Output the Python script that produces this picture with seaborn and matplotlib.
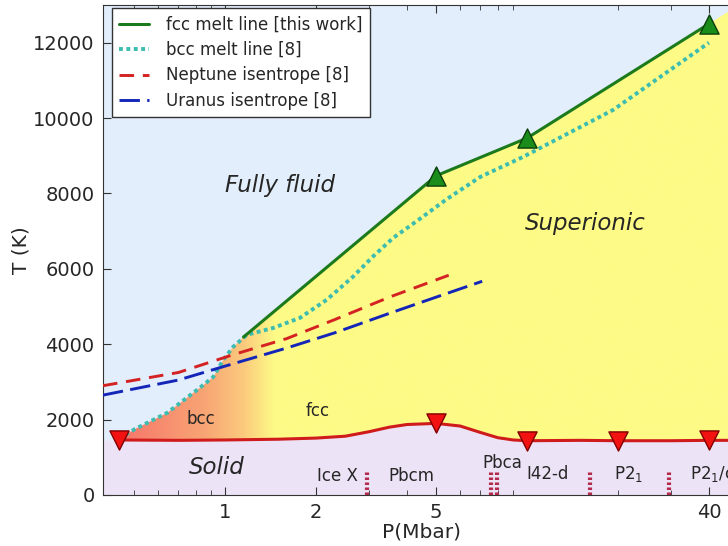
import numpy as np
import pandas as pd
import matplotlib
matplotlib.use("Agg")
import matplotlib.pyplot as plt
from matplotlib.image import AxesImage
from matplotlib.patches import Polygon
from matplotlib.colors import to_rgb
import seaborn as sns

# --- data (P in Mbar, T in K) ---
fcc_P = [1.15, 5.0, 10.0, 40.0]
fcc_T = [4190, 8470, 9470, 12500]
fcc_mark_P = [5.0, 10.0, 40.0]
fcc_mark_T = [8470, 9470, 12500]

bcc_P = [0.446, 0.503, 0.643, 0.808, 0.913, 0.985, 1.063, 1.18, 1.44, 1.77,
         2.17, 2.65, 3.09, 3.6, 4.42, 5.42, 7.0, 9.7, 19.3, 40.0]
bcc_T = [1500, 1750, 2180, 2790, 3130, 3580, 3930, 4250, 4430, 4700,
         5180, 5790, 6330, 6820, 7330, 7850, 8440, 8970, 10220, 12000]

neptune_P = [0.394, 0.7, 1.06, 1.6, 2.3, 3.5, 5.5]
neptune_T = [2900, 3250, 3720, 4150, 4650, 5250, 5830]

uranus_P = [0.394, 0.7, 1.0, 1.6, 2.3, 3.5, 5.0, 7.1]
uranus_T = [2650, 3050, 3420, 3900, 4300, 4820, 5250, 5670]

solid_P = [0.446, 0.7, 1.0, 1.5, 2.0, 2.5, 3.0, 3.5, 4.0, 5.0, 6.0, 7.0,
           8.0, 9.0, 10.0, 15.0, 20.0, 30.0, 40.0, 51.0]
solid_T = [1460, 1450, 1460, 1480, 1510, 1560, 1680, 1800, 1870, 1900, 1830, 1660,
           1520, 1460, 1440, 1450, 1440, 1440, 1450, 1450]
solid_mark_P = [0.446, 5.0, 10.0, 20.0, 40.0]
solid_mark_T = [1460, 1900, 1440, 1440, 1450]

# phase boundaries inside the solid
boundary_P = [2.95, 7.6, 7.95, 16.2, 29.5]
boundary_top = 650

phase_names = ["Ice X", "Pbcm", "Pbca", "I42-d", "P2$_1$"]
phase_P = [2.35, 4.13, 8.25, 11.67, 21.6]
phase_T = [500, 500, 850, 560, 560]

# bcc -> fcc colour ramp across pressure
ramp_P = [0.45, 0.85, 1.15, 1.45]
ramp_colors = ["#f6766b", "#f8a474", "#fbca7d", "#fdfa86"]

xlim = (0.394, 50.7)
ylim = (0, 13000)

fluid_color = "#e2eefb"
solid_color = "#ede3f6"

sns.set_style("ticks")
plt.rcParams["font.family"] = ["DejaVu Sans"]
plt.rcParams["xtick.direction"] = "in"
plt.rcParams["ytick.direction"] = "in"

fig = plt.figure(figsize=(7.28, 5.46), dpi=100)
ax = fig.add_axes([103 / 728, 51 / 546, (740 - 103) / 728, 490 / 546])
ax.set_xscale("log")
ax.set_xlim(*xlim)
ax.set_ylim(*ylim)
ax.set_facecolor(fluid_color)

# solid region
sx = [xlim[0]] + solid_P
sy = [solid_T[0]] + solid_T
ax.fill_between(sx, 0, sy, color=solid_color, lw=0, zorder=0.5)

# superionic region (gradient from bcc to fcc), clipped to the region above the solid line
upper_P = [p for p in bcc_P if p < fcc_P[0]] + fcc_P
upper_T = [t for p, t in zip(bcc_P, bcc_T) if p < fcc_P[0]] + fcc_T
slope = (fcc_T[-1] - fcc_T[-2]) / np.log10(fcc_P[-1] / fcc_P[-2])
upper_P = upper_P + [xlim[1]]
upper_T = upper_T + [fcc_T[-1] + slope * np.log10(xlim[1] / fcc_P[-1])]
poly_xy = np.column_stack([upper_P + solid_P[::-1], upper_T + solid_T[::-1]])
poly = Polygon(poly_xy, closed=True, transform=ax.transData,
               facecolor="none", edgecolor="none")
ax.add_patch(poly)

lx = np.linspace(np.log10(xlim[0]), np.log10(xlim[1]), 800)
ramp_rgb = np.array([to_rgb(c) for c in ramp_colors])
cols = np.stack([np.interp(lx, np.log10(ramp_P), ramp_rgb[:, i]) for i in range(3)], axis=-1)
img = np.repeat(cols[None, :, :], 2, axis=0)
im = AxesImage(ax, extent=(0, 1, 0, 1), origin="lower", interpolation="bilinear",
               transform=ax.transAxes, zorder=1)
im.set_data(img)
ax.add_artist(im)
im.set_clip_path(poly)

# lines
df_fcc = pd.DataFrame({"P": fcc_P, "T": fcc_T})
df_bcc = pd.DataFrame({"P": bcc_P, "T": bcc_T})
df_nep = pd.DataFrame({"P": neptune_P, "T": neptune_T})
df_ura = pd.DataFrame({"P": uranus_P, "T": uranus_T})
df_sol = pd.DataFrame({"P": solid_P, "T": solid_T})

sns.lineplot(data=df_fcc, x="P", y="T", sort=False, estimator=None, ax=ax,
             color="#1b7a1b", lw=2.2, label="fcc melt line [this work]", zorder=4)
sns.lineplot(data=df_bcc, x="P", y="T", sort=False, estimator=None, ax=ax,
             color="#3dbcb0", lw=2.8, linestyle=(0, (1, 0.9)),
             label="bcc melt line [8]", zorder=3)
sns.lineplot(data=df_nep, x="P", y="T", sort=False, estimator=None, ax=ax,
             color="#d42222", lw=2.1, linestyle=(0, (5, 3)),
             label="Neptune isentrope [8]", zorder=3)
sns.lineplot(data=df_ura, x="P", y="T", sort=False, estimator=None, ax=ax,
             color="#1326b8", lw=2.1, linestyle=(0, (7, 2.5)),
             label="Uranus isentrope [8]", zorder=3)
sns.lineplot(data=df_sol, x="P", y="T", sort=False, estimator=None, ax=ax,
             color="#cf1b1b", lw=2.2, zorder=3, legend=False)

sns.scatterplot(x=fcc_mark_P, y=fcc_mark_T, marker="^", s=190, color="#198c19",
                edgecolor="#0b3f0b", linewidth=1.0, ax=ax, zorder=5, legend=False)
sns.scatterplot(x=solid_mark_P, y=solid_mark_T, marker="v", s=190, color="#f21212",
                edgecolor="#800000", linewidth=1.0, ax=ax, zorder=5, legend=False)

ax.vlines(boundary_P, 0, boundary_top, colors="#b2294a", lw=3,
          linestyles=[(0, (0.6, 0.6))], zorder=3)

# labels
ax.text(1.52, 8200, "Fully fluid", fontsize=16.5, style="italic", ha="center", va="center", zorder=6)
ax.text(15.6, 7190, "Superionic", fontsize=16.5, style="italic", ha="center", va="center", zorder=6)
ax.text(0.94, 740, "Solid", fontsize=16.5, style="italic", ha="center", va="center", zorder=6)
ax.text(0.83, 2020, "bcc", fontsize=12, ha="center", va="center", zorder=6)
ax.text(2.02, 2230, "fcc", fontsize=12, ha="center", va="center", zorder=6)
for name, p, t in zip(phase_names, phase_P, phase_T):
    ax.text(p, t, name, fontsize=12, ha="center", va="center", zorder=6)
ax.text(34.5, 560, "P2$_1$/c", fontsize=12, ha="left", va="center", zorder=6)

# axes
ax.set_xticks([1, 2, 5, 40])
ax.set_xticklabels(["1", "2", "5", "40"])
ax.set_xticks([0.5, 0.6, 0.7, 0.8, 0.9, 3, 4, 6, 7, 8, 9, 20, 30], minor=True)
ax.set_yticks(np.arange(0, 12001, 2000))
ax.tick_params(which="both", top=True, right=True, labelsize=14, color="#333333")
ax.tick_params(which="major", length=6, pad=6)
ax.tick_params(which="minor", length=3.5)
ax.set_xlabel("P(Mbar)", fontsize=14.5, labelpad=0)
ax.set_ylabel("T (K)", fontsize=14.5, labelpad=2)
for s in ax.spines.values():
    s.set_color("#333333")

leg = ax.legend(loc="upper left", bbox_to_anchor=(0.014, 0.994), borderaxespad=0,
                fontsize=12, frameon=True, fancybox=False, framealpha=1,
                edgecolor="#333333", handlelength=1.8, handletextpad=1.0,
                borderpad=0.45, labelspacing=0.45)
leg.set_zorder(10)

fig.savefig("out.png", dpi=100)
